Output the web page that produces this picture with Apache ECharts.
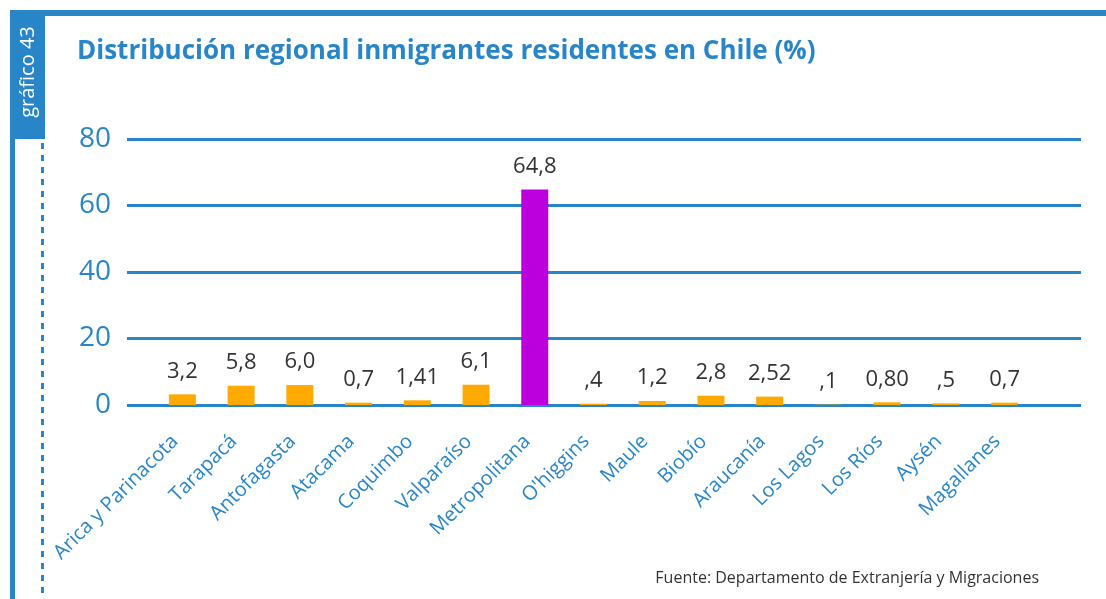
<!DOCTYPE html>
<html>
<head>
<meta charset="utf-8">
<script src="https://cdn.jsdelivr.net/npm/echarts@6/dist/echarts.min.js"></script>
<style>
  html, body { margin: 0; padding: 0; background: #ffffff; }
  #chart { width: 1106px; height: 599px; }
</style>
</head>
<body>
<div id="chart"></div>
<script>
// Regions of Chile, north to south
const regions = [
  'Arica y Parinacota', 'Tarapacá', 'Antofagasta', 'Atacama', 'Coquimbo',
  'Valparaíso', 'Metropolitana', "O'higgins", 'Maule', 'Biobío',
  'Araucanía', 'Los Lagos', 'Los Ríos', 'Aysén', 'Magallanes'
];

// Share of resident immigrants (%), as printed above each bar
const shareLabels = [
  '3,2', '5,8', '6,0', '0,7', '1,41',
  '6,1', '64,8', ',4', '1,2', '2,8',
  '2,52', ',1', '0,80', ',5', '0,7'
];

// Numeric values parsed from the printed labels (decimal comma)
const shareValues = shareLabels.map(s => parseFloat(s.replace(',', '.')));

const yTicks = [0, 20, 40, 60, 80];

const BLUE = '#2886c8';
const ORANGE = '#ffaa00';
const MAGENTA = '#bb00dd';
const FONT = '"Open Sans", "Noto Sans", sans-serif';

const chart = echarts.init(document.getElementById('chart'), null, { renderer: 'canvas' });

chart.setOption({
  animation: false,
  backgroundColor: '#ffffff',
  textStyle: { fontFamily: FONT },
  title: {
    text: 'Distribución regional inmigrantes residentes en Chile (%)',
    left: 72,
    top: 34,
    textStyle: { color: BLUE, fontSize: 26, fontWeight: 'bold', fontFamily: FONT }
  },
  grid: [
    // value scale and gridlines
    { left: 127, right: 25, top: 139, bottom: 194 },
    // bars
    { left: 153, width: 881, top: 139, bottom: 194 }
  ],
  xAxis: [
    { gridIndex: 0, type: 'value', show: false, min: 0, max: 1 },
    {
      gridIndex: 1,
      type: 'category',
      data: regions,
      axisLine: { show: false },
      axisTick: { show: false },
      axisLabel: {
        interval: 0,
        rotate: 45,
        margin: 26,
        color: BLUE,
        fontSize: 20,
        fontFamily: FONT,
        formatter: name => name + '  '
      }
    }
  ],
  yAxis: [
    {
      gridIndex: 0,
      type: 'value',
      min: yTicks[0],
      max: yTicks[yTicks.length - 1],
      interval: 20,
      axisLine: { show: false },
      axisTick: { show: false },
      axisLabel: { color: BLUE, fontSize: 28, margin: 16, fontFamily: FONT },
      splitLine: { lineStyle: { color: BLUE, width: 3 } }
    },
    {
      gridIndex: 1,
      type: 'value',
      min: yTicks[0],
      max: yTicks[yTicks.length - 1],
      show: false
    }
  ],
  series: [
    {
      type: 'bar',
      xAxisIndex: 1,
      yAxisIndex: 1,
      barWidth: 27,
      z: 1,
      data: shareValues.map((v, i) => ({
        value: v,
        itemStyle: { color: regions[i] === 'Metropolitana' ? MAGENTA : ORANGE }
      })),
      label: {
        show: true,
        position: 'top',
        distance: 12,
        color: '#333333',
        fontSize: 22,
        fontFamily: FONT,
        formatter: p => shareLabels[p.dataIndex]
      }
    }
  ],
  graphic: [
    // top rule
    { type: 'rect', shape: { x: 10, y: 10, width: 1096, height: 6 }, style: { fill: BLUE } },
    // tab holding the chart number
    { type: 'rect', shape: { x: 10, y: 10, width: 35, height: 129 }, style: { fill: BLUE } },
    {
      type: 'text',
      x: 28, y: 72,
      rotation: Math.PI / 2,
      style: {
        text: 'gráfico 43',
        fill: '#ffffff',
        fontSize: 20,
        fontFamily: FONT,
        align: 'center',
        verticalAlign: 'middle'
      }
    },
    // left rule
    { type: 'rect', shape: { x: 10, y: 139, width: 5, height: 460 }, style: { fill: BLUE } },
    // dotted guide
    {
      type: 'line',
      shape: { x1: 42.5, y1: 143, x2: 42.5, y2: 599 },
      style: { stroke: BLUE, lineWidth: 3, lineDash: [6, 6] }
    },
    // source note
    {
      type: 'text',
      right: 67,
      top: 570,
      style: {
        text: 'Fuente: Departamento de Extranjería y Migraciones',
        fill: '#333333',
        fontSize: 16,
        fontFamily: FONT
      }
    }
  ]
});
</script>
</body>
</html>
